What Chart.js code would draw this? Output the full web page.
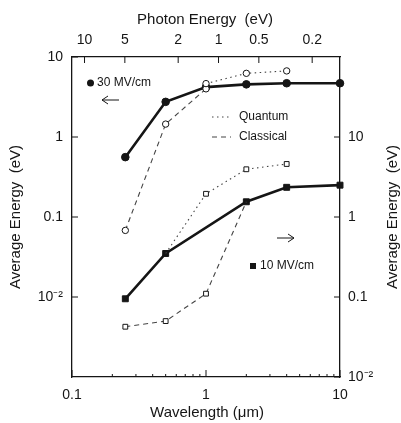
<!DOCTYPE html>
<html>
<head>
<meta charset="utf-8">
<script src="https://cdn.jsdelivr.net/npm/chart.js@4.4.0/dist/chart.umd.min.js"></script>
<style>
  html, body { margin: 0; padding: 0; background: #fff; }
  canvas { display: block; }
</style>
</head>
<body>
<canvas id="energyChart" width="401" height="423"></canvas>
<script>
// Average electron energy vs. excitation wavelength, two field strengths.
// 30 MV/cm is read on the left axis, 10 MV/cm on the right axis.
const field30Wavelengths = [0.25, 0.5, 1, 2, 4, 10];
const field30 = [0.56, 2.75, 4.2, 4.55, 4.7, 4.7];

const field30QuantumWavelengths = [1, 2, 4];
const field30Quantum = [4.65, 6.25, 6.7];

const field30ClassicalWavelengths = [0.25, 0.5, 1];
const field30Classical = [0.068, 1.45, 4.0];

const field10Wavelengths = [0.25, 0.5, 2, 4, 10];
const field10 = [0.095, 0.35, 1.55, 2.35, 2.5];

const field10QuantumWavelengths = [0.5, 1, 2, 4];
const field10Quantum = [0.35, 1.95, 3.95, 4.6];

const field10ClassicalWavelengths = [0.25, 0.5, 1, 2];
const field10Classical = [0.0425, 0.05, 0.11, 1.55];

// axis ticks
const wavelengthTicks = [0.1, 1, 10];
const photonEnergyTicks = [10, 5, 2, 1, 0.5, 0.2];
const leftTicks = [10, 1, 0.1, 0.01];
const rightTicks = [10, 1, 0.1, 0.01];

const HC = 1.24; // eV * um, photon energy <-> wavelength

const INK = '#151515';
const FONT = "'Liberation Sans', Arial, Helvetica, sans-serif";

const toPoints = (xs, ys) => xs.map((x, i) => ({ x, y: ys[i] }));

function fmtTick(v) {
  if (Math.abs(v - 0.01) < 1e-9) return '10\u207B\u00B2';
  return String(v);
}

const fixedTicks = (values) => (scale) => {
  scale.ticks = values.map((v) => ({ value: v }));
};

function logAxis(position, min, max, padding, extra) {
  return Object.assign({
    type: 'logarithmic',
    position,
    min,
    max,
    grid: { display: false, drawTicks: false },
    border: { display: true, color: INK, width: 1.3 },
    ticks: {
      autoSkip: false,
      maxRotation: 0,
      padding,
      color: INK,
      font: { family: FONT, size: 14 },
      callback: (v) => fmtTick(v)
    }
  }, extra);
}

// tick marks point into the plot box
const inwardTicks = {
  id: 'inwardTicks',
  afterDatasetsDraw(chart) {
    const { ctx, chartArea: a, scales } = chart;
    ctx.save();
    ctx.strokeStyle = INK;
    ctx.lineWidth = 1;
    ctx.beginPath();

    wavelengthTicks.forEach((v) => {
      const x = scales.x.getPixelForValue(v);
      ctx.moveTo(x, a.bottom); ctx.lineTo(x, a.bottom - 7);
    });
    [0.1, 1].forEach((d) => {
      for (let m = 2; m <= 9; m++) {
        const x = scales.x.getPixelForValue(d * m);
        ctx.moveTo(x, a.bottom); ctx.lineTo(x, a.bottom - 3);
      }
    });
    photonEnergyTicks.forEach((e) => {
      const x = scales.x.getPixelForValue(HC / e);
      ctx.moveTo(x, a.top); ctx.lineTo(x, a.top + 6);
    });
    leftTicks.forEach((v) => {
      const y = scales.y.getPixelForValue(v);
      ctx.moveTo(a.left, y); ctx.lineTo(a.left + 6, y);
    });
    rightTicks.forEach((v) => {
      const y = scales.y2.getPixelForValue(v);
      ctx.moveTo(a.right, y); ctx.lineTo(a.right - 6, y);
    });
    ctx.stroke();
    ctx.restore();
  }
};

function arrow(ctx, xTail, xHead, y) {
  const dir = Math.sign(xHead - xTail);
  ctx.beginPath();
  ctx.moveTo(xTail, y); ctx.lineTo(xHead, y);
  ctx.moveTo(xHead - dir * 6, y - 4); ctx.lineTo(xHead, y); ctx.lineTo(xHead - dir * 6, y + 4);
  ctx.stroke();
}

// titles and the in-plot key
const annotations = {
  id: 'annotations',
  afterDraw(chart) {
    const { ctx, chartArea: a } = chart;
    const midY = (a.top + a.bottom) / 2;
    ctx.save();
    ctx.fillStyle = INK;
    ctx.strokeStyle = INK;
    ctx.textBaseline = 'middle';

    ctx.font = `15px ${FONT}`;
    ctx.textAlign = 'center';
    ctx.fillText('Photon Energy  (eV)', 205, 20);
    ctx.fillText('Wavelength (\u03BCm)', 207, 413);

    [16, 393].forEach((x) => {
      ctx.save();
      ctx.translate(x, midY);
      ctx.rotate(-Math.PI / 2);
      ctx.fillText('Average Energy  (eV)', 0, 0);
      ctx.restore();
    });

    ctx.font = `12px ${FONT}`;
    ctx.textAlign = 'left';

    ctx.beginPath();
    ctx.arc(90.5, 83, 3.5, 0, Math.PI * 2);
    ctx.fill();
    ctx.fillText('30 MV/cm', 97, 83);

    ctx.lineWidth = 1;
    arrow(ctx, 119, 102, 100);
    arrow(ctx, 277, 294, 238);

    ctx.strokeStyle = '#444';
    ctx.setLineDash([1.5, 3.5]);
    ctx.beginPath(); ctx.moveTo(212, 117); ctx.lineTo(231, 117); ctx.stroke();
    ctx.setLineDash([5, 4]);
    ctx.beginPath(); ctx.moveTo(212, 137); ctx.lineTo(231, 137); ctx.stroke();
    ctx.setLineDash([]);
    ctx.fillText('Quantum', 239, 117);
    ctx.fillText('Classical', 239, 137);

    ctx.fillRect(250, 263, 6, 6);
    ctx.fillText('10 MV/cm', 260, 266);
    ctx.restore();
  }
};

const solid = { borderColor: INK, borderWidth: 2.6, showLine: true, clip: false };
const dotted = { borderColor: '#444', borderWidth: 1.1, borderDash: [1.5, 3.5], showLine: true, clip: false };
const dashed = { borderColor: '#444', borderWidth: 1.1, borderDash: [5, 4], showLine: true, clip: false };
const openMarker = { pointBackgroundColor: '#fff', pointBorderColor: INK, pointBorderWidth: 1 };
const filledMarker = { pointBackgroundColor: INK, pointBorderColor: INK, pointBorderWidth: 1 };

// top axis labels show photon energy rather than wavelength
const energyLabel = (v) => String(Math.round((HC / v) * 10) / 10);

const topAxis = logAxis('top', 0.1, 10, 8, {
  afterBuildTicks: fixedTicks(photonEnergyTicks.map((e) => HC / e)),
  afterFit: (s) => { s.height = 57; }
});
topAxis.ticks.callback = energyLabel;

new Chart(document.getElementById('energyChart'), {
  type: 'scatter',
  data: {
    datasets: [
      Object.assign({
        label: '30 MV/cm quantum',
        data: toPoints(field30QuantumWavelengths, field30Quantum),
        yAxisID: 'y', pointStyle: 'circle', pointRadius: 3.2
      }, dotted, openMarker),
      Object.assign({
        label: '30 MV/cm classical',
        data: toPoints(field30ClassicalWavelengths, field30Classical),
        yAxisID: 'y', pointStyle: 'circle', pointRadius: 3.2
      }, dashed, openMarker),
      Object.assign({
        label: '10 MV/cm quantum',
        data: toPoints(field10QuantumWavelengths, field10Quantum),
        yAxisID: 'y2', pointStyle: 'rect', pointRadius: [0, 3.4, 3.4, 3.4]
      }, dotted, openMarker),
      Object.assign({
        label: '10 MV/cm classical',
        data: toPoints(field10ClassicalWavelengths, field10Classical),
        yAxisID: 'y2', pointStyle: 'rect', pointRadius: [3.4, 3.4, 3.4, 0]
      }, dashed, openMarker),
      Object.assign({
        label: '30 MV/cm',
        data: toPoints(field30Wavelengths, field30),
        yAxisID: 'y', pointStyle: 'circle', pointRadius: 3.8
      }, solid, filledMarker),
      Object.assign({
        label: '10 MV/cm',
        data: toPoints(field10Wavelengths, field10),
        yAxisID: 'y2', pointStyle: 'rect', pointRadius: 4.2
      }, solid, filledMarker)
    ]
  },
  options: {
    responsive: false,
    animation: false,
    devicePixelRatio: 1,
    layout: { padding: 0 },
    plugins: { legend: { display: false }, tooltip: { enabled: false } },
    scales: {
      x: logAxis('bottom', 0.1, 10, 10, {
        afterBuildTicks: fixedTicks(wavelengthTicks),
        afterFit: (s) => { s.height = 46; }
      }),
      x2: topAxis,
      y: logAxis('left', 0.001, 10, 9, {
        afterBuildTicks: fixedTicks(leftTicks),
        afterFit: (s) => { s.width = 72; }
      }),
      y2: logAxis('right', 0.01, 100, 8, {
        afterBuildTicks: fixedTicks(rightTicks),
        afterFit: (s) => { s.width = 61; }
      })
    }
  },
  plugins: [inwardTicks, annotations]
});
</script>
</body>
</html>
